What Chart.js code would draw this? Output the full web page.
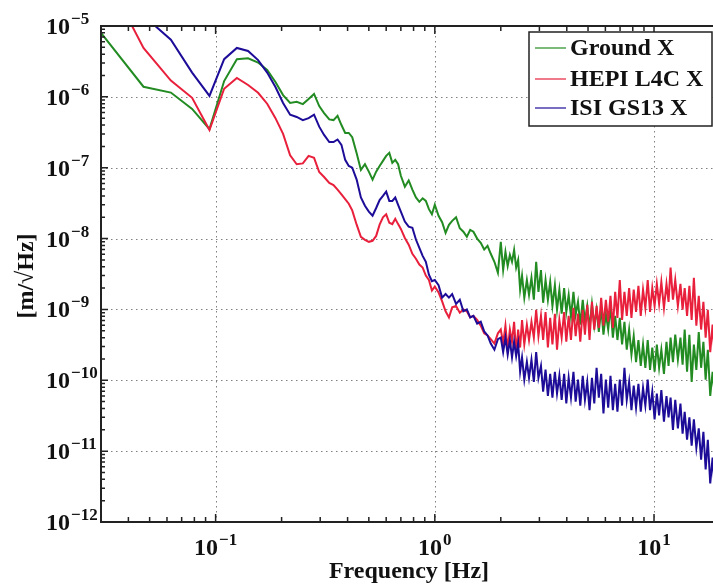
<!DOCTYPE html>
<html>
<head>
    <style>
        body {
            margin: 0;
            overflow: hidden;
            background: #fff;
        }
    </style>
    <script src="https://cdn.jsdelivr.net/npm/chart.js"></script>
</head>
<body>
    <canvas id="myChart" width="740" height="584"></canvas>
    <script>
        // frequency grid [Hz], shared by the three spectra
        var freqs = [
            0.03, 0.046875, 0.0625, 0.078125, 0.09375, 0.109375, 0.125, 0.140625, 0.15625, 0.171875,
            0.1875, 0.203125, 0.21875, 0.234375, 0.25, 0.265625, 0.28125, 0.296875, 0.3125,
            0.33, 0.345, 0.36, 0.375, 0.39, 0.405, 0.42, 0.44, 0.46, 0.48,
            0.5, 0.52, 0.54, 0.56, 0.58, 0.6, 0.62, 0.64, 0.66, 0.68,
            0.7, 0.73, 0.76, 0.79, 0.82, 0.85, 0.88, 0.91, 0.94, 0.97,
            1.0, 1.04, 1.08, 1.12, 1.16, 1.2, 1.25, 1.3, 1.35, 1.4,
            1.45, 1.5, 1.56, 1.62, 1.68, 1.74, 1.8, 1.87, 1.94, 2.0,
            2.05, 2.1, 2.15, 2.2, 2.25, 2.3, 2.35, 2.4, 2.45, 2.5,
            2.56, 2.63, 2.69, 2.76, 2.83, 2.9, 2.97, 3.05, 3.12, 3.2,
            3.28, 3.36, 3.44, 3.53, 3.61, 3.7, 3.79, 3.89, 3.98, 4.08,
            4.18, 4.29, 4.39, 4.5, 4.61, 4.73, 4.84, 4.96, 5.08, 5.21,
            5.34, 5.47, 5.6, 5.74, 5.88, 6.03, 6.18, 6.33, 6.49, 6.65,
            6.81, 6.98, 7.15, 7.33, 7.51, 7.7, 7.89, 8.08, 8.28, 8.49,
            8.7, 8.91, 9.13, 9.36, 9.59, 9.82, 10.06, 10.3, 10.55, 10.8,
            11.1, 11.4, 11.65, 11.9, 12.2, 12.5, 12.85, 13.2, 13.5, 13.8,
            14.15, 14.5, 14.85, 15.2, 15.6, 16.0, 16.4, 16.8, 17.2, 17.6,
            18.05, 18.5, 18.95, 19.4, 19.9, 20.4
        ];

        // amplitude spectral density [m/sqrt(Hz)]
        var groundX = [
            8.0e-6, 1.39e-6, 1.15e-6, 6.75e-7, 3.5e-7, 1.67e-6, 3.39e-6, 3.5e-6, 3.05e-6, 2.4e-6,
            1.62e-6, 1.06e-6, 8.2e-7, 8.5e-7, 7.9e-7, 9.3e-7, 1.1e-6, 7.4e-7, 5.9e-7,
            4.8e-7, 4.7e-7, 5.4e-7, 4.0e-7, 3.1e-7, 3.1e-7, 2.7e-7, 1.6e-7, 9.3e-8, 1.12e-7,
            8.8e-8, 6.8e-8, 8.8e-8, 1.06e-7, 1.25e-7, 1.47e-7, 1.62e-7, 1.17e-7, 1.29e-7, 1.12e-7,
            7.7e-8, 5.4e-8, 6.6e-8, 4.9e-8, 3.8e-8, 3.3e-8, 3.7e-8, 3.4e-8, 2.6e-8, 2.2e-8,
            3.0e-8, 2.1e-8, 1.7e-8, 1.2e-8, 1.56e-8, 1.78e-8, 2.0e-8, 1.4e-8, 1.25e-8, 1.06e-8,
            1.33e-8, 1.25e-8, 1.0e-8, 8.7e-9, 7.0e-9, 7.9e-9, 6.1e-9, 4.7e-9, 3.3e-9, 9.0e-9,
            3.6e-9, 6.5e-9, 4.1e-9, 5.9e-9, 4.7e-9, 6.9e-9, 3.9e-9, 5.0e-9, 1.9e-9, 3.0e-9,
            1.46e-9, 2.6e-9, 1.6e-9, 2.8e-9, 1.37e-9, 4.7e-9, 1.77e-9, 3.6e-9, 1.24e-9, 2.6e-9,
            1.37e-9, 2.45e-9, 1.12e-9, 2.2e-9, 9.9e-10, 1.9e-9, 8.7e-10, 2.0e-9, 9.2e-10, 1.6e-9,
            7.9e-10, 1.77e-9, 8.4e-10, 1.28e-9, 6.1e-10, 1.37e-9, 6.7e-10, 1.12e-9, 5.5e-10, 1.2e-9,
            5.9e-10, 9.9e-10, 4.8e-10, 1.05e-9, 4.4e-10, 8.7e-10, 5.2e-10, 1.12e-9, 4.0e-10, 8.1e-10,
            3.7e-10, 7.6e-10, 3.2e-10, 6.7e-10, 2.7e-10, 5.2e-10, 2.3e-10, 4.2e-10, 1.8e-10, 3.7e-10,
            1.6e-10, 3.2e-10, 1.5e-10, 3.7e-10, 1.4e-10, 2.9e-10, 1.32e-10, 3.2e-10, 1.5e-10, 2.7e-10,
            1.23e-10, 3.5e-10, 1.6e-10, 4.0e-10, 1.8e-10, 4.4e-10, 1.95e-10, 4.0e-10, 1.66e-10, 5.2e-10,
            1.32e-10, 4.4e-10, 9.5e-11, 3.2e-10, 1.4e-10, 4.8e-10, 1.5e-10, 3.5e-10, 1.02e-10, 2.7e-10,
            6.0e-11, 1.32e-10, 5.7e-11, 1.02e-10, 5.3e-11, 7.3e-11
        ];
        var hepiL4cX = [
            7.0e-5, 4.9e-6, 1.7e-6, 9.7e-7, 3.4e-7, 1.3e-6, 1.85e-6, 1.47e-6, 1.14e-6, 8.0e-7,
            5.0e-7, 3.0e-7, 1.5e-7, 1.12e-7, 1.15e-7, 1.47e-7, 1.38e-7, 8.7e-8, 7.4e-8,
            6.1e-8, 5.7e-8, 4.9e-8, 4.2e-8, 3.6e-8, 3.1e-8, 2.5e-8, 1.57e-8, 1.06e-8, 9.6e-9,
            9.0e-9, 9.3e-9, 1.09e-8, 1.57e-8, 2.0e-8, 2.2e-8, 1.67e-8, 1.6e-8, 1.9e-8, 1.6e-8,
            1.37e-8, 1.02e-8, 8.2e-9, 6.1e-9, 5.2e-9, 4.3e-9, 3.9e-9, 3.0e-9, 2.6e-9, 1.85e-9,
            2.1e-9, 1.74e-9, 1.3e-9, 9.4e-10, 7.7e-10, 1.07e-9, 1.12e-9, 9.0e-10, 1.0e-9, 9.4e-10,
            7.7e-10, 8.1e-10, 7.1e-10, 5.9e-10, 4.6e-10, 4.3e-10, 3.8e-10, 3.3e-10, 4.6e-10, 5.2e-10,
            3.3e-10, 5.9e-10, 2.7e-10, 5.2e-10, 3.5e-10, 6.7e-10, 2.4e-10, 5.2e-10, 2.9e-10, 7.1e-10,
            3.2e-10, 6.1e-10, 3.7e-10, 6.7e-10, 4.0e-10, 9.9e-10, 4.2e-10, 8.1e-10, 3.7e-10, 9.2e-10,
            2.9e-10, 7.6e-10, 3.2e-10, 8.7e-10, 2.7e-10, 7.1e-10, 4.0e-10, 9.2e-10, 3.5e-10, 8.1e-10,
            3.7e-10, 1.05e-9, 4.2e-10, 8.7e-10, 3.5e-10, 9.9e-10, 4.4e-10, 1.16e-9, 3.7e-10, 1.28e-9,
            5.2e-10, 1.12e-9, 5.5e-10, 1.46e-9, 5.9e-10, 1.37e-9, 6.7e-10, 1.55e-9, 5.5e-10, 1.77e-9,
            7.6e-10, 2.6e-9, 7.1e-10, 1.77e-9, 8.1e-10, 2.0e-9, 7.6e-10, 1.9e-9, 9.2e-10, 2.15e-9,
            8.1e-10, 1.9e-9, 1.05e-9, 2.6e-9, 9.2e-10, 2.0e-9, 1.12e-9, 2.3e-9, 1.2e-9, 2.45e-9,
            1.05e-9, 2.3e-9, 1.28e-9, 3.9e-9, 1.37e-9, 2.6e-9, 1.12e-9, 2.3e-9, 9.9e-10, 2.0e-9,
            8.1e-10, 2.15e-9, 7.1e-10, 2.8e-9, 5.9e-10, 1.55e-9, 5.2e-10, 1.28e-9, 4.0e-10, 9.9e-10,
            2.5e-10, 6.1e-10, 1.95e-10, 4.4e-10, 1.5e-10, 3.2e-10
        ];
        var isiGs13X = [
            4.0e-5, 1.4e-5, 6.4e-6, 2.2e-6, 1.03e-6, 3.4e-6, 4.9e-6, 4.45e-6, 3.3e-6, 2.2e-6,
            1.38e-6, 8.2e-7, 5.6e-7, 5.2e-7, 4.7e-7, 5.0e-7, 5.6e-7, 3.8e-7, 2.9e-7,
            2.3e-7, 2.3e-7, 2.5e-7, 2.1e-7, 1.29e-7, 1.06e-7, 1.0e-7, 6.8e-8, 3.8e-8, 2.9e-8,
            2.4e-8, 2.1e-8, 2.7e-8, 3.5e-8, 4.0e-8, 4.6e-8, 3.4e-8, 3.4e-8, 3.8e-8, 3.0e-8,
            2.4e-8, 1.74e-8, 1.47e-8, 1.42e-8, 9.7e-9, 7.4e-9, 5.7e-9, 4.7e-9, 3.1e-9, 2.5e-9,
            2.6e-9, 2.2e-9, 1.47e-9, 1.65e-9, 1.47e-9, 1.65e-9, 1.2e-9, 1.37e-9, 9.4e-10, 1.0e-9,
            7.7e-10, 8.1e-10, 6.3e-10, 6.7e-10, 4.9e-10, 4.3e-10, 3.3e-10, 2.7e-10, 3.8e-10, 4.0e-10,
            2.5e-10, 4.0e-10, 2.3e-10, 3.7e-10, 2.1e-10, 3.5e-10, 2.2e-10, 3.3e-10, 1.32e-10, 2.1e-10,
            1.02e-10, 1.82e-10, 1.08e-10, 1.95e-10, 9.5e-11, 2.5e-10, 1.08e-10, 1.6e-10, 6.9e-11, 1.41e-10,
            6.0e-11, 1.23e-10, 5.7e-11, 1.32e-10, 6.5e-11, 1.16e-10, 5.3e-11, 1.23e-10, 4.7e-11, 1.08e-10,
            5.7e-11, 1.32e-10, 5.0e-11, 1.02e-10, 4.4e-11, 1.16e-10, 5.3e-11, 9.5e-11, 3.8e-11, 1.08e-10,
            4.7e-11, 1.5e-10, 5.7e-11, 1.23e-10, 3.4e-11, 1.02e-10, 4.1e-11, 1.16e-10, 3.8e-11, 8.9e-11,
            3.6e-11, 1.02e-10, 4.4e-11, 1.5e-10, 5.3e-11, 9.5e-11, 3.8e-11, 8.4e-11, 4.1e-11, 8.9e-11,
            3.6e-11, 7.8e-11, 4.4e-11, 1.02e-10, 3.8e-11, 6.9e-11, 2.8e-11, 6.5e-11, 3.2e-11, 7.3e-11,
            2.6e-11, 6.0e-11, 3.0e-11, 5.7e-11, 2.0e-11, 5.3e-11, 2.1e-11, 4.7e-11, 1.76e-11, 3.6e-11,
            1.45e-11, 3.0e-11, 1.19e-11, 2.8e-11, 1.12e-11, 2.1e-11, 7.6e-12, 1.88e-11, 5.5e-12, 1.45e-11,
            3.5e-12, 8.1e-12, 2.7e-12, 5.8e-12, 2.1e-12, 4.0e-12
        ];

        var seriesNames = ['Ground X', 'HEPI L4C X', 'ISI GS13 X'];
        var seriesColors = ['#228b22', '#e8203c', '#1c0c98'];

        // axis decades
        var xTickPowers = [-1, 0, 1];
        var yTickPowers = [-12, -11, -10, -9, -8, -7, -6, -5];

        var serif = '"Liberation Serif", "Times New Roman", serif';
        var MINUS = '\u2212';

        function toPoints(vals) {
            return freqs.map(function (f, i) { return { x: f, y: vals[i] }; });
        }

        function drawPower(ctx, p, cx, baseY, centered) {
            var exp = p < 0 ? MINUS + Math.abs(p) : String(p);
            ctx.font = 'bold 24px ' + serif;
            var w10 = ctx.measureText('10').width;
            ctx.font = 'bold 17px ' + serif;
            var wExp = ctx.measureText(exp).width;
            var x0 = centered ? cx - (w10 + 1 + wExp) / 2 : cx;
            ctx.textAlign = 'left';
            ctx.textBaseline = 'alphabetic';
            ctx.font = 'bold 24px ' + serif;
            ctx.fillText('10', x0, baseY);
            ctx.font = 'bold 17px ' + serif;
            ctx.fillText(exp, x0 + w10 + 1, baseY - 10);
        }

        var frame = {
            id: 'frame',
            beforeDatasetsDraw: function (chart) {
                var ctx = chart.ctx, a = chart.chartArea;
                var xs = chart.scales.x, ys = chart.scales.y;
                ctx.save();
                ctx.strokeStyle = '#808080';
                ctx.lineWidth = 1;
                ctx.setLineDash([1.5, 3.5]);
                xTickPowers.forEach(function (p) {
                    var px = Math.round(xs.getPixelForValue(Math.pow(10, p))) + 0.5;
                    ctx.beginPath(); ctx.moveTo(px, a.top); ctx.lineTo(px, a.bottom); ctx.stroke();
                });
                yTickPowers.forEach(function (p) {
                    var py = Math.round(ys.getPixelForValue(Math.pow(10, p))) + 0.5;
                    if (py <= a.top + 1 || py >= a.bottom - 1) return;
                    ctx.beginPath(); ctx.moveTo(a.left, py); ctx.lineTo(a.right, py); ctx.stroke();
                });
                ctx.restore();
            },
            afterDatasetsDraw: function (chart) {
                var ctx = chart.ctx, a = chart.chartArea;
                var xs = chart.scales.x, ys = chart.scales.y;
                ctx.save();
                ctx.strokeStyle = '#222';
                ctx.lineWidth = 1.5;
                ctx.setLineDash([]);

                // minor + major ticks, inward
                var d, k, v, px, py, len;
                for (d = -2; d <= 1; d++) {
                    for (k = 1; k <= 9; k++) {
                        v = k * Math.pow(10, d);
                        if (v < xs.min || v > xs.max) continue;
                        px = xs.getPixelForValue(v);
                        len = k === 1 ? 8 : 5;
                        ctx.beginPath();
                        ctx.moveTo(px, a.bottom); ctx.lineTo(px, a.bottom - len);
                        ctx.moveTo(px, a.top); ctx.lineTo(px, a.top + len);
                        ctx.stroke();
                    }
                }
                for (d = -12; d <= -5; d++) {
                    for (k = 1; k <= 9; k++) {
                        v = k * Math.pow(10, d);
                        if (v < ys.min || v > ys.max) continue;
                        py = ys.getPixelForValue(v);
                        len = k === 1 ? 7 : 4;
                        ctx.beginPath();
                        ctx.moveTo(a.left, py); ctx.lineTo(a.left + len, py);
                        ctx.moveTo(a.right, py); ctx.lineTo(a.right - len, py);
                        ctx.stroke();
                    }
                }

                // box
                ctx.lineWidth = 2;
                ctx.strokeRect(a.left, a.top, a.right - a.left, a.bottom - a.top);

                // tick labels
                ctx.fillStyle = '#111';
                yTickPowers.forEach(function (p) {
                    var y = ys.getPixelForValue(Math.pow(10, p));
                    drawPower(ctx, p, 46, y + 8, false);
                });
                xTickPowers.forEach(function (p) {
                    var x = xs.getPixelForValue(Math.pow(10, p));
                    drawPower(ctx, p, x, 555, true);
                });

                // axis titles
                ctx.font = 'bold 24px ' + serif;
                ctx.textAlign = 'center';
                ctx.textBaseline = 'alphabetic';
                ctx.fillText('Frequency [Hz]', 409, 578);
                ctx.save();
                ctx.translate(33, 276);
                ctx.rotate(-Math.PI / 2);
                ctx.fillText('[m/\u221AHz]', 0, 0);
                ctx.restore();

                // legend
                ctx.fillStyle = '#fff';
                ctx.fillRect(529, 32, 183, 94);
                ctx.strokeStyle = '#222';
                ctx.lineWidth = 1.5;
                ctx.strokeRect(529, 32, 183, 94);
                var rows = [48, 79, 108];
                seriesNames.forEach(function (name, i) {
                    ctx.strokeStyle = seriesColors[i];
                    ctx.lineWidth = 1.2;
                    ctx.beginPath(); ctx.moveTo(535, rows[i]); ctx.lineTo(566, rows[i]); ctx.stroke();
                    ctx.fillStyle = '#111';
                    ctx.font = 'bold 24px ' + serif;
                    ctx.textAlign = 'left';
                    ctx.textBaseline = 'middle';
                    ctx.fillText(name, 570, rows[i] + 1);
                });
                ctx.restore();
            }
        };

        var allSeries = [groundX, hepiL4cX, isiGs13X];
        var ctx = document.getElementById('myChart').getContext('2d');
        var myChart = new Chart(ctx, {
            type: 'line',
            data: {
                datasets: allSeries.map(function (vals, i) {
                    return {
                        label: seriesNames[i],
                        data: toPoints(vals),
                        borderColor: seriesColors[i],
                        borderWidth: 2,
                        pointRadius: 0,
                        tension: 0,
                        fill: false,
                        order: 2 - i
                    };
                })
            },
            options: {
                responsive: false,
                animation: false,
                events: [],
                layout: { padding: { left: 101, top: 26, right: 20, bottom: 62 } },
                scales: {
                    x: { type: 'logarithmic', min: 0.03, max: 20, display: false },
                    y: { type: 'logarithmic', min: 1e-12, max: 1e-5, display: false }
                },
                plugins: {
                    legend: { display: false },
                    tooltip: { enabled: false }
                }
            },
            plugins: [frame]
        });
    </script>
</body>
</html>
